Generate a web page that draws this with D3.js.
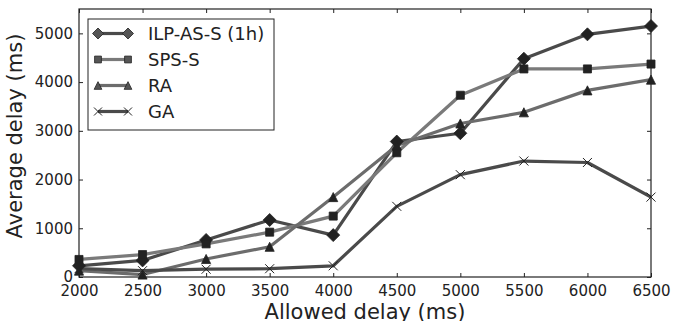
<!DOCTYPE html>
<html>
<head>
<meta charset="utf-8">
<script src="https://cdn.jsdelivr.net/npm/d3@7"></script>
<style>
body { margin: 0; background: #fff; }
svg text { font-family: "DejaVu Sans", sans-serif; fill: #222; }
</style>
</head>
<body>
<div id="chart"></div>
<script>
// DATA
var allowedDelay = [2000, 2500, 3000, 3500, 4000, 4500, 5000, 5500, 6000, 6500];
var ilpValues = [230, 340, 760, 1170, 860, 2780, 2950, 4480, 4980, 5150];
var spsValues = [360, 460, 680, 920, 1250, 2550, 3730, 4270, 4270, 4370];
var raValues = [130, 50, 370, 620, 1640, 2700, 3150, 3380, 3830, 4050];
var gaValues = [170, 130, 160, 170, 230, 1450, 2100, 2380, 2350, 1640];
var seriesNames = ["ILP-AS-S (1h)", "SPS-S", "RA", "GA"];
var xTicks = [2000, 2500, 3000, 3500, 4000, 4500, 5000, 5500, 6000, 6500];
var yTicks = [0, 1000, 2000, 3000, 4000, 5000];

// SIZING
var W = 673, H = 321;
var margin = { top: 9, right: 22, bottom: 44, left: 79 };
var width = W - margin.left - margin.right;
var height = H - margin.top - margin.bottom;

var series = [
    { name: seriesNames[0], values: ilpValues, color: "#4a4a4a", marker: "diamond" },
    { name: seriesNames[1], values: spsValues, color: "#7a7a7a", marker: "square" },
    { name: seriesNames[2], values: raValues, color: "#6c6c6c", marker: "triangle" },
    { name: seriesNames[3], values: gaValues, color: "#4a4a4a", marker: "x" }
];

var svg = d3.select("#chart").append("svg")
    .attr("width", W).attr("height", H);
var g = svg.append("g")
    .attr("transform", "translate(" + margin.left + "," + margin.top + ")");

var x = d3.scaleLinear().domain([2000, 6500]).range([0, width]);
var y = d3.scaleLinear().domain([0, 5500]).range([height, 0]);

g.append("clipPath").attr("id", "clip")
    .append("rect").attr("width", width).attr("height", height);

// marker shapes, r = half size
function drawMarker(sel, type, r, fill) {
    var d;
    if (type == "x") {
        d = "M" + (-r) + "," + (-r) + "L" + r + "," + r + "M" + (-r) + "," + r + "L" + r + "," + (-r);
        sel.append("path").attr("d", d)
            .attr("stroke", "#222").attr("stroke-width", 1).attr("fill", "none");
        return;
    }
    if (type == "diamond") {
        d = "M0," + (-r) + "L" + r + ",0L0," + r + "L" + (-r) + ",0Z";
    } else if (type == "square") {
        var s = r * 0.62;
        d = "M" + (-s) + "," + (-s) + "H" + s + "V" + s + "H" + (-s) + "Z";
    } else {
        var t = r * 0.7;
        d = "M0," + (-t) + "L" + t + "," + t + "L" + (-t) + "," + t + "Z";
    }
    sel.append("path").attr("d", d)
        .attr("fill", fill).attr("stroke", "#222").attr("stroke-width", 0.8);
}

var line = d3.line()
    .x(function (d, i) { return x(allowedDelay[i]); })
    .y(function (d) { return y(d); });

var plot = g.append("g").attr("clip-path", "url(#clip)");

series.forEach(function (s) {
    plot.append("path")
        .datum(s.values)
        .attr("d", line)
        .attr("fill", "none")
        .attr("stroke", s.color)
        .attr("stroke-width", 3.2)
        .attr("stroke-linejoin", "round");
});
series.forEach(function (s) {
    s.values.forEach(function (v, i) {
        var m = g.append("g").attr("transform", "translate(" + x(allowedDelay[i]) + "," + y(v) + ")");
        drawMarker(m, s.marker, s.marker == "x" ? 4.5 : 6.5, "#222");
    });
});

// AXES (ticks inward, all four sides)
var tickLen = 4;
var fmt = d3.format("d");
var xAxis = g.append("g").attr("transform", "translate(0," + height + ")")
    .call(d3.axisBottom(x).tickValues(xTicks).tickFormat(fmt).tickSizeInner(-tickLen).tickSizeOuter(0).tickPadding(8));
var yAxis = g.append("g")
    .call(d3.axisLeft(y).tickValues(yTicks).tickFormat(fmt).tickSizeInner(-tickLen).tickSizeOuter(0).tickPadding(6));
g.append("g").call(d3.axisTop(x).tickValues(xTicks).tickSizeInner(-tickLen).tickSizeOuter(0).tickFormat(""));
g.append("g").attr("transform", "translate(" + width + ",0)")
    .call(d3.axisRight(y).tickValues(yTicks).tickSizeInner(-tickLen).tickSizeOuter(0).tickFormat(""));

g.selectAll(".domain").remove();
g.selectAll(".tick line").attr("stroke", "#222").attr("stroke-width", 1);
g.selectAll(".tick text").style("font-size", "15px").attr("fill", "#222")
    .style("font-family", "'DejaVu Sans', sans-serif");

g.append("rect").attr("width", width).attr("height", height)
    .attr("fill", "none").attr("stroke", "#222").attr("stroke-width", 1.2);

// AXIS TITLES
svg.append("text")
    .attr("x", margin.left + width / 2).attr("y", H - 2)
    .attr("text-anchor", "middle")
    .style("font-size", "21px")
    .text("Allowed delay (ms)");
svg.append("text")
    .attr("transform", "translate(22,136) rotate(-90)")
    .attr("text-anchor", "middle")
    .style("font-size", "21px")
    .text("Average delay (ms)");

// LEGEND
var legend = svg.append("g").attr("transform", "translate(88,19)");
legend.append("rect").attr("width", 186).attr("height", 111)
    .attr("fill", "#fff").attr("stroke", "#222").attr("stroke-width", 1);
series.forEach(function (s, i) {
    var ly = 14.5 + i * 26;
    legend.append("line")
        .attr("x1", 10).attr("x2", 40).attr("y1", ly).attr("y2", ly)
        .attr("stroke", s.color).attr("stroke-width", 3.2);
    [10, 40].forEach(function (mx) {
        var m = legend.append("g").attr("transform", "translate(" + mx + "," + ly + ")");
        drawMarker(m, s.marker, s.marker == "x" ? 4 : 5.5, "#555");
    });
    legend.append("text")
        .attr("x", 60).attr("y", ly + 6.5)
        .style("font-size", "18px")
        .text(s.name);
});
</script>
</body>
</html>
